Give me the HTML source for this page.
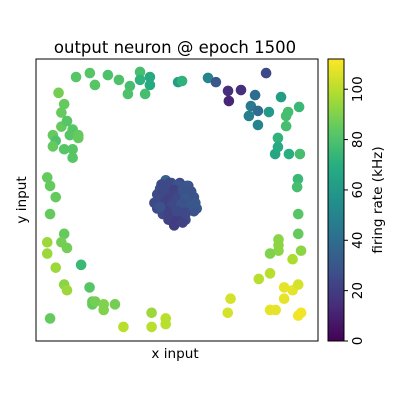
<!DOCTYPE html>
<html><head><meta charset="utf-8"><style>
body{margin:0;background:#fff;}
svg{display:block;font-family:"DejaVu Sans","Liberation Sans",sans-serif;}
</style></head><body>
<svg id="chart" width="400" height="400">
<defs><linearGradient id="vir" x1="0" y1="1" x2="0" y2="0">
<stop offset="0" stop-color="#440154"/><stop offset="0.125" stop-color="#472d7b"/><stop offset="0.25" stop-color="#3b528b"/><stop offset="0.375" stop-color="#2c728e"/><stop offset="0.5" stop-color="#21918c"/><stop offset="0.625" stop-color="#28ae80"/><stop offset="0.75" stop-color="#5ec962"/><stop offset="0.875" stop-color="#addc30"/><stop offset="1" stop-color="#fde725"/></linearGradient></defs>
<text x="175" y="53" font-size="16.5" text-anchor="middle">output neuron @ epoch 1500</text>
<g id="pts"></g>
<rect x="36" y="59" width="282" height="282" fill="none" stroke="#000" stroke-width="1"/>
<text x="175" y="358" font-size="13.6" text-anchor="middle">x input</text>
<text x="26" y="200" font-size="13.6" text-anchor="middle" transform="rotate(-90 26 200)">y input</text>
<rect x="328" y="59" width="16" height="282" fill="url(#vir)" stroke="#000" stroke-width="1"/>
<g id="cbt"></g>
<text x="382" y="200" font-size="13.6" text-anchor="middle" transform="rotate(-90 382 200)">firing rate (kHz)</text>
</svg>
<script>
// data: normalized x/y inputs (0..1), firing rate values
const xs=[0.142,0.191,0.209,0.255,0.294,0.333,0.326,0.369,0.404,0.369,0.404,0.387,0.504,0.518,
0.816,0.610,0.638,0.681,0.684,0.727,0.777,0.762,0.787,0.755,0.787,0.826,0.869,0.933,0.894,0.887,0.887,0.858,0.848,0.858,0.897,0.936,0.929,0.926,
0.08,0.10,0.09,0.09,0.11,0.12,0.13,0.15,0.15,0.06,0.07,0.06,0.10,0.13,0.13,0.04,0.05,0.07,
0.05,0.93,0.10,0.93,0.04,0.04,0.09,0.11,0.86,0.86,0.86,0.83,0.94,0.91,0.16,0.07,0.83,0.79,0.10,0.11,0.19,0.88,0.91,0.93,0.20,0.20,0.21,0.24,0.24,0.28,0.69,0.68,0.88,0.83,0.85,0.93,0.94,0.05,0.41,0.46,0.41,0.46,0.31,
0.46,0.48,0.51,0.54,0.44,0.47,0.50,0.53,0.55,0.43,0.45,0.48,0.51,0.54,0.56,0.42,0.45,0.48,0.50,0.53,0.56,0.43,0.46,0.49,0.52,0.55,0.57,0.45,0.48,0.50,0.53,0.56,0.47,0.50,0.53,0.49,0.52,0.50,0.48,
0.445,0.475,0.505,0.535,0.46,0.49,0.52,0.55,0.44,0.47,0.50,0.53,0.56,0.455,0.485,0.515,0.545,0.47,0.50,0.53,0.44,0.565];
const ys=[0.936,0.950,0.908,0.943,0.926,0.904,0.876,0.954,0.936,0.926,0.908,0.876,0.918,0.922,
0.950,0.933,0.918,0.887,0.851,0.890,0.872,0.833,0.816,0.798,0.766,0.812,0.865,0.830,0.812,0.798,0.762,0.720,0.663,0.688,0.663,0.663,0.574,0.546,
0.88,0.84,0.81,0.76,0.78,0.73,0.75,0.73,0.72,0.73,0.71,0.69,0.68,0.68,0.65,0.58,0.55,0.51,
0.45,0.45,0.38,0.38,0.35,0.31,0.35,0.33,0.36,0.34,0.32,0.31,0.32,0.29,0.27,0.26,0.24,0.22,0.20,0.18,0.19,0.19,0.18,0.20,0.14,0.13,0.14,0.13,0.11,0.13,0.15,0.10,0.15,0.11,0.11,0.09,0.10,0.08,0.10,0.08,0.05,0.06,0.05,
0.57,0.56,0.56,0.55,0.54,0.55,0.54,0.54,0.53,0.52,0.52,0.53,0.53,0.52,0.51,0.49,0.49,0.50,0.49,0.49,0.49,0.47,0.47,0.47,0.47,0.47,0.47,0.45,0.45,0.45,0.45,0.46,0.43,0.43,0.43,0.41,0.42,0.54,0.46,
0.555,0.56,0.555,0.55,0.535,0.535,0.535,0.53,0.505,0.505,0.505,0.505,0.50,0.485,0.485,0.485,0.48,0.455,0.46,0.455,0.475,0.49];
const vals=[82,82,82,80,80,78,80,78,68,72,68,78,62,72,
25,50,30,15,12,15,40,45,40,48,50,60,62,75,78,78,78,72,65,68,70,78,75,78,
88,85,85,85,82,82,82,85,85,85,80,85,82,82,82,85,85,85,
85,82,85,85,95,95,88,88,92,92,92,90,92,98,75,95,100,100,92,95,82,108,108,105,85,85,88,90,90,88,105,105,108,108,108,110,110,85,95,100,100,100,100,
35,28,25,25,28,25,30,25,28,25,22,28,55,28,32,25,25,22,28,30,35,25,28,20,28,30,30,25,22,25,30,28,22,20,25,20,22,58,22,
25,25,28,30,25,22,28,28,25,22,25,30,28,22,25,28,30,22,25,25,28,30];
const ticks=[0,20,40,60,80,100];
const vmax=112;
const X=v=>36+v*282, Y=v=>341-v*282, C=v=>341-v/vmax*282;
const stops=["#440154","#472d7b","#3b528b","#2c728e","#21918c","#28ae80","#5ec962","#addc30","#fde725"];
function hex(h){return [1,3,5].map(i=>parseInt(h.substr(i,2),16));}
function vir(v){let t=Math.max(0,Math.min(1,v/vmax))*8,i=Math.min(7,Math.floor(t)),f=t-i,a=hex(stops[i]),b=hex(stops[i+1]);
return "rgb("+a.map((c,k)=>Math.round(c+(b[k]-c)*f)).join(",")+")";}
const ns="http://www.w3.org/2000/svg",g=document.getElementById("pts");
for(let i=0;i<xs.length;i++){const c=document.createElementNS(ns,"circle");
c.setAttribute("cx",X(xs[i]));c.setAttribute("cy",Y(ys[i]));c.setAttribute("r",5.3);c.setAttribute("fill",vir(vals[i]));


g.appendChild(c);}
const tg=document.getElementById("cbt");
ticks.forEach(t=>{const y=C(t);
const l=document.createElementNS(ns,"line");l.setAttribute("x1",344);l.setAttribute("x2",348);l.setAttribute("y1",y);l.setAttribute("y2",y);l.setAttribute("stroke","#000");


tg.appendChild(l);
const tx=document.createElementNS(ns,"text");tx.setAttribute("x",362);tx.setAttribute("y",y);tx.setAttribute("font-size",13.5);tx.setAttribute("text-anchor","middle");
tx.setAttribute("transform","rotate(-90 362 "+y+")");tx.textContent=t;


tg.appendChild(tx);});
</script>
</body></html>
